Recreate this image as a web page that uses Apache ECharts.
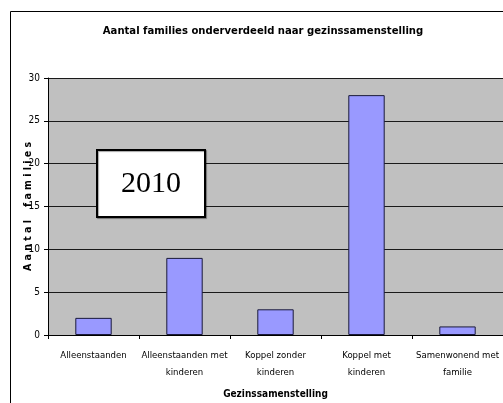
<!DOCTYPE html>
<html>
<head>
<meta charset="utf-8">
<script src="https://cdn.jsdelivr.net/npm/echarts@6/dist/echarts.min.js"></script>
<style>
  html, body { margin: 0; padding: 0; background: #fff; }
  #chart { width: 503px; height: 403px; }
</style>
</head>
<body>
<div id="chart"></div>
<script>
// Family composition categories and counts
const categories = [
  'Alleenstaanden',
  'Alleenstaanden met\nkinderen',
  'Koppel zonder\nkinderen',
  'Koppel met\nkinderen',
  'Samenwonend met\nfamilie'
];
const families = [2, 9, 3, 28, 1];
const yTicks = [0, 5, 10, 15, 20, 25, 30];

const narrow = '"DejaVu Sans Condensed", "Liberation Sans Narrow", sans-serif';

const chart = echarts.init(document.getElementById('chart'), null, { renderer: 'canvas' });

chart.setOption({
  animation: false,
  backgroundColor: '#ffffff',
  title: {
    text: 'Aantal families onderverdeeld naar gezinssamenstelling',
    left: 258,
    textAlign: 'center',
    top: 21,
    textStyle: { fontFamily: narrow, fontSize: 11.2, fontWeight: 'bold', color: '#000' }
  },
  grid: {
    left: 48, right: 0, top: 78, bottom: 68,
    outerBoundsMode: 'none',
    containLabel: false,
    show: true, backgroundColor: '#c0c0c0', borderWidth: 0
  },
  xAxis: {
    type: 'category',
    data: categories,
    name: 'Gezinssamenstelling',
    nameLocation: 'middle',
    nameGap: 54,
    nameMoveOverlap: false,
    nameTextStyle: { fontFamily: narrow, fontSize: 10, fontWeight: 'bold', color: '#000' },
    axisLine: { show: true, lineStyle: { color: '#000', width: 1 } },
    axisTick: { show: true, alignWithLabel: false, length: 4, lineStyle: { color: '#000' } },
    axisLabel: {
      fontFamily: narrow, fontSize: 9.5, color: '#000', margin: 12, lineHeight: 17,
      interval: 0, hideOverlap: false
    },
    splitLine: { show: false }
  },
  yAxis: {
    type: 'value',
    min: yTicks[0],
    max: yTicks[yTicks.length - 1],
    interval: 5,
    name: 'A a n t a l    f a m i l i e s',
    nameLocation: 'middle',
    nameGap: 14,
    nameMoveOverlap: false,
    nameTextStyle: { fontFamily: narrow, fontSize: 10.5, fontWeight: 'bold', color: '#000' },
    axisLine: { show: true, lineStyle: { color: '#000', width: 1 } },
    axisTick: { show: true, length: 4, lineStyle: { color: '#000' } },
    axisLabel: { fontFamily: narrow, fontSize: 10, color: '#000', margin: 8 },
    splitLine: { show: true, lineStyle: { color: '#1a1a1a', width: 1 } }
  },
  series: [{
    type: 'bar',
    data: families,
    barWidth: '40%',
    itemStyle: { color: '#9999ff', borderColor: '#1a1a3a', borderWidth: 1 }
  }],
  graphic: [
    {
      type: 'rect',
      shape: { x: 10.5, y: 11.5, width: 700, height: 600 },
      style: { fill: null, stroke: '#000', lineWidth: 1 },
      silent: true
    },
    {
      type: 'rect',
      shape: { x: 97, y: 150, width: 108, height: 67 },
      style: {
        fill: '#ffffff', stroke: '#000', lineWidth: 2,
        shadowColor: 'rgba(0,0,0,0.35)', shadowOffsetX: 1, shadowOffsetY: 1, shadowBlur: 1
      },
      z: 100
    },
    {
      type: 'text',
      x: 151, y: 184,
      style: {
        text: '2010',
        fontFamily: '"Liberation Serif", "DejaVu Serif", serif',
        fontSize: 30,
        fill: '#000',
        align: 'center',
        verticalAlign: 'middle'
      },
      z: 101
    }
  ]
});
</script>
</body>
</html>
